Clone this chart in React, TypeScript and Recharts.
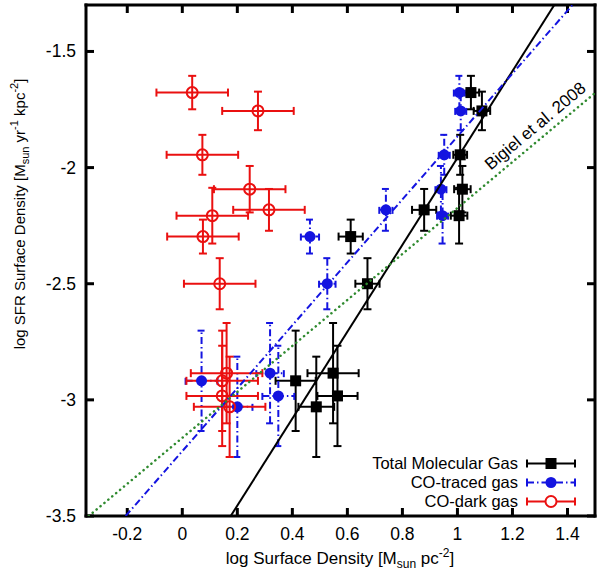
import React from "react";
import { ScatterChart, Scatter, XAxis, YAxis, ErrorBar } from "recharts";

// log SFR surface density shared by the three gas tracers (one row per region)
const sfr = [-1.677, -1.756, -1.945, -2.093, -2.182, -2.207, -2.297, -2.5, -2.885, -2.918, -2.983, -3.03];
const sfrErr = [0.072, 0.083, 0.086, 0.1, 0.09, 0.12, 0.073, 0.11, 0.216, 0.216, 0.216, 0.216];

const totalGas = [1.049, 1.089, 1.01, 1.018, 0.879, 1.006, 0.612, 0.673, 0.548, 0.412, 0.564, 0.487];
const totalGasErr = [0.03, 0.03, 0.025, 0.03, 0.044, 0.03, 0.044, 0.044, 0.093, 0.073, 0.073, 0.065];

const tracedGas = [1.007, 1.012, 0.952, 0.94, 0.74, 0.946, 0.464, 0.527, 0.319, 0.07, 0.349, 0.2];
const tracedGasErr = [0.02, 0.02, 0.02, 0.02, 0.024, 0.02, 0.033, 0.03, 0.05, 0.058, 0.058, 0.055];

const darkGas = [0.036, 0.275, 0.073, 0.245, 0.315, 0.109, 0.075, 0.136, 0.161, 0.145, 0.145, 0.172];
const darkGasErr = [0.13, 0.13, 0.13, 0.13, 0.13, 0.13, 0.13, 0.13, 0.13, 0.13, 0.13, 0.13];

// fitted relations, end points where they leave the frame
const totalFitX = [0.176, 1.352];
const totalFitY = [-3.5, -1.3];
const tracedFitX = [-0.206, 1.418];
const tracedFitY = [-3.5, -1.3];
const bigielX = [-0.34, 1.5];
const bigielY = [-3.5, -1.679];

const xTicks = [-0.2, 0, 0.2, 0.4, 0.6, 0.8, 1, 1.2, 1.4];
const yTicks = [-3.5, -3, -2.5, -2, -1.5];

const RED = "#ea1010";
const BLUE = "#1414e0";
const GREEN = "#2f8a2f";
const FONT = "'Liberation Sans', Arial, Helvetica, sans-serif";
const DASHDOT = "7 3 1.5 3";
const FS = 17.5;

const toPoints = (xs: number[], errs: number[]) =>
  xs.map((x, i) => ({ x, y: sfr[i], ex: errs[i], ey: sfrErr[i] }));
const toLine = (xs: number[], ys: number[]) => xs.map((x, i) => ({ x, y: ys[i] }));

const totalData = toPoints(totalGas, totalGasErr);
const tracedData = toPoints(tracedGas, tracedGasErr);
const darkData = toPoints(darkGas, darkGasErr);

const frame = { stroke: "#000", strokeWidth: 3, strokeLinecap: "square" as const };
const tickMark = { stroke: "#000", strokeWidth: 3 };

const BottomTick = ({ x, y, payload }: any) => (
  <text x={x} y={y + 32} textAnchor="middle" fontSize={FS} fontFamily={FONT} fill="#000">
    {payload.value}
  </text>
);

const LeftTick = ({ x, y, payload }: any) => (
  <text x={x - 18} y={y + 6} textAnchor="end" fontSize={FS} fontFamily={FONT} fill="#000">
    {payload.value}
  </text>
);

const NoTick = () => <g />;

const square = ({ cx, cy }: any) => <rect x={cx - 5.5} y={cy - 5.5} width={11} height={11} fill="#000" />;
const dot = ({ cx, cy }: any) => <circle cx={cx} cy={cy} r={5.5} fill={BLUE} />;
const ring = ({ cx, cy }: any) => <circle cx={cx} cy={cy} r={5.5} fill="none" stroke={RED} strokeWidth={2} />;

function LegendRow({ y, label, color, dash, marker }: any) {
  return (
    <g>
      <text x={518} y={y + 5.5} textAnchor="end" fontSize={16.5} fill="#000">
        {label}
      </text>
      <line x1={527} x2={575} y1={y} y2={y} stroke={color} strokeWidth={2} strokeDasharray={dash} />
      <line x1={527} x2={527} y1={y - 4} y2={y + 4} stroke={color} strokeWidth={2} />
      <line x1={575} x2={575} y1={y - 4} y2={y + 4} stroke={color} strokeWidth={2} />
      {marker(551, y)}
    </g>
  );
}

export default function App() {
  return (
    <div style={{ position: "absolute", left: 0, top: 0, width: 600, height: 571, background: "#fff" }}>
      <ScatterChart width={600} height={571} margin={{ top: 5, right: 5, bottom: 55, left: 86 }}>
        <XAxis
          type="number"
          dataKey="x"
          domain={[-0.35, 1.5]}
          ticks={xTicks}
          allowDataOverflow
          mirror
          tickSize={8}
          tickMargin={0}
          tickLine={tickMark}
          axisLine={frame}
          tick={BottomTick}
        />
        <XAxis
          xAxisId="top"
          orientation="top"
          type="number"
          dataKey="x"
          domain={[-0.35, 1.5]}
          ticks={xTicks}
          allowDataOverflow
          mirror
          tickSize={8}
          tickLine={tickMark}
          axisLine={frame}
          tick={NoTick}
        />
        <YAxis
          type="number"
          dataKey="y"
          domain={[-3.5, -1.3]}
          ticks={yTicks}
          allowDataOverflow
          mirror
          tickSize={8}
          tickMargin={0}
          tickLine={tickMark}
          axisLine={frame}
          tick={LeftTick}
        />
        <YAxis
          yAxisId="right"
          orientation="right"
          type="number"
          dataKey="y"
          domain={[-3.5, -1.3]}
          ticks={yTicks}
          allowDataOverflow
          mirror
          tickSize={8}
          tickLine={tickMark}
          axisLine={frame}
          tick={NoTick}
        />

        <Scatter data={totalData} shape={square} isAnimationActive={false}>
          <ErrorBar dataKey="ex" direction="x" width={4} stroke="#000" strokeWidth={2} />
          <ErrorBar dataKey="ey" direction="y" width={4} stroke="#000" strokeWidth={2} />
        </Scatter>
        <Scatter data={tracedData} shape={dot} isAnimationActive={false}>
          <ErrorBar dataKey="ex" direction="x" width={4} stroke={BLUE} strokeWidth={2} strokeDasharray={DASHDOT} />
          <ErrorBar dataKey="ey" direction="y" width={4} stroke={BLUE} strokeWidth={2} strokeDasharray={DASHDOT} />
        </Scatter>
        <Scatter data={darkData} shape={ring} isAnimationActive={false}>
          <ErrorBar dataKey="ex" direction="x" width={4} stroke={RED} strokeWidth={2} />
          <ErrorBar dataKey="ey" direction="y" width={4} stroke={RED} strokeWidth={2} />
        </Scatter>

        <Scatter
          data={toLine(totalFitX, totalFitY)}
          shape={NoTick}
          line={{ stroke: "#000", strokeWidth: 2 }}
          isAnimationActive={false}
        />
        <Scatter
          data={toLine(tracedFitX, tracedFitY)}
          shape={NoTick}
          line={{ stroke: BLUE, strokeWidth: 2, strokeDasharray: DASHDOT }}
          isAnimationActive={false}
        />
        <Scatter
          data={toLine(bigielX, bigielY)}
          shape={NoTick}
          line={{ stroke: GREEN, strokeWidth: 2.5, strokeDasharray: "0.1 5", strokeLinecap: "round" }}
          isAnimationActive={false}
        />
      </ScatterChart>

      <svg
        width={600}
        height={571}
        style={{ position: "absolute", left: 0, top: 0, pointerEvents: "none" }}
        fontFamily={FONT}
      >
        <text x={536} y={127} textAnchor="middle" dominantBaseline="middle" fontSize={17} transform="rotate(-40 536 127)">
          Bigiel et al. 2008
        </text>

        <LegendRow y={463.5} label="Total Molecular Gas" color="#000" marker={(x: number, y: number) => (
          <rect x={x - 5.5} y={y - 5.5} width={11} height={11} fill="#000" />
        )} />
        <LegendRow y={482.5} label="CO-traced gas" color={BLUE} dash={DASHDOT} marker={(x: number, y: number) => (
          <circle cx={x} cy={y} r={5.5} fill={BLUE} />
        )} />
        <LegendRow y={501.5} label="CO-dark gas" color={RED} marker={(x: number, y: number) => (
          <circle cx={x} cy={y} r={5.5} fill="#fff" stroke={RED} strokeWidth={2} />
        )} />

        <text x={340} y={564} textAnchor="middle" fontSize={17}>
          log Surface Density [M
          <tspan fontSize={12} dy={4}>sun</tspan>
          <tspan dy={-4}> pc</tspan>
          <tspan fontSize={12} dy={-7}>-2</tspan>
          <tspan dy={7}>]</tspan>
        </text>

        <text x={25} y={214} textAnchor="middle" fontSize={15} transform="rotate(-90 25 214)">
          log SFR Surface Density [M
          <tspan fontSize={11} dy={4}>sun</tspan>
          <tspan dy={-4}> yr</tspan>
          <tspan fontSize={11} dy={-7}>-1</tspan>
          <tspan dy={7}> kpc</tspan>
          <tspan fontSize={11} dy={-7}>-2</tspan>
          <tspan dy={7}>]</tspan>
        </text>
      </svg>
    </div>
  );
}
